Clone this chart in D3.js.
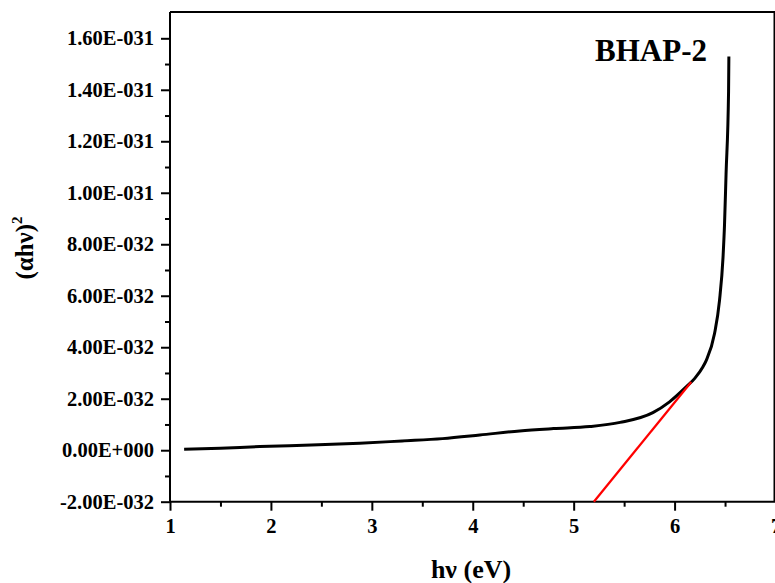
<!DOCTYPE html>
<html>
<head>
<meta charset="utf-8">
<script src="https://cdn.jsdelivr.net/npm/d3@7"></script>
<style>
  body { margin: 0; background: #fff; }
  text { font-family: "Liberation Serif", "Times New Roman", serif; font-weight: bold; }
</style>
</head>
<body>
<svg id="chart"></svg>
<script>
// photon energy (eV) and (αhν)^2 (in units of 1e-32)
const energy = [1.14, 1.5, 1.89, 2.4, 2.88, 3.3, 3.7, 4.07, 4.465, 4.8, 5.16, 5.46, 5.785, 5.95,
                6.115, 6.2, 6.28, 6.314, 6.396, 6.445, 6.48, 6.495, 6.51, 6.535, 6.538];
const absorb = [0.04, 0.08, 0.14, 0.2, 0.27, 0.36, 0.45, 0.59, 0.75, 0.84, 0.92, 1.08, 1.46, 1.88,
                2.46, 2.79, 3.23, 3.49, 4.53, 5.81, 7.49, 8.78, 10.72, 13.94, 15.29];
// tangent (band gap extrapolation)
const fitEnergy = [5.2, 6.165];
const fitAbsorb = [-2.0, 2.65];

const xTicks = [1, 2, 3, 4, 5, 6, 7];
const yTicks = [-2, 0, 2, 4, 6, 8, 10, 12, 14, 16];
const yTickLabels = ["-2.00E-032", "0.00E+000", "2.00E-032", "4.00E-032", "6.00E-032",
                     "8.00E-032", "1.00E-031", "1.20E-031", "1.40E-031", "1.60E-031"];

const width = 775, height = 583;
const margin = { top: 12, right: 0, bottom: 81, left: 170 };

const svg = d3.select("#chart")
    .attr("width", width)
    .attr("height", height)
    .attr("viewBox", [0, 0, width, height]);

const x = d3.scaleLinear().domain([1, 7]).range([margin.left, 775.5]);
const y = d3.scaleLinear().domain([-2, 16]).range([501.7, 38.3]);
const yTop = margin.top;

// frame (top and right)
svg.append("path")
    .attr("fill", "none")
    .attr("stroke", "black")
    .attr("stroke-width", 2)
    .attr("d", `M${x(1)},${yTop}H${x(7) - 1}V${y(-2)}`);

// x axis
svg.append("g")
    .attr("transform", `translate(0,${y(-2)})`)
    .call(d3.axisBottom(x).tickValues(xTicks).tickFormat(d3.format("d"))
        .tickSize(9).tickPadding(8).tickSizeOuter(0))
    .call(g => g.select(".domain").attr("stroke-width", 2).attr("d", `M${x(1)},0H${x(7)}`))
    .call(g => g.selectAll(".tick line").attr("stroke-width", 2))
    .call(g => g.selectAll(".tick text").attr("font-size", 20.5).attr("font-family", null));

svg.append("g")
    .attr("transform", `translate(0,${y(-2)})`)
    .call(d3.axisBottom(x).tickValues(d3.range(1.5, 7, 1)).tickSize(5).tickFormat("").tickSizeOuter(0))
    .call(g => g.select(".domain").remove())
    .call(g => g.selectAll(".tick line").attr("stroke-width", 2));

// y axis
svg.append("g")
    .attr("transform", `translate(${margin.left},0)`)
    .call(d3.axisLeft(y).tickValues(yTicks).tickSize(9).tickPadding(7)
        .tickFormat((d, i) => yTickLabels[i]).tickSizeOuter(0))
    .call(g => g.select(".domain").attr("stroke-width", 2).attr("d", `M0,${y(-2)}V${yTop}`))
    .call(g => g.selectAll(".tick line").attr("stroke-width", 2))
    .call(g => g.selectAll(".tick text").attr("font-size", 20.5).attr("font-family", null));

svg.append("g")
    .attr("transform", `translate(${margin.left},0)`)
    .call(d3.axisLeft(y).tickValues(d3.range(-1, 17, 2)).tickSize(5).tickFormat("").tickSizeOuter(0))
    .call(g => g.select(".domain").remove())
    .call(g => g.selectAll(".tick line").attr("stroke-width", 2));

// curve
const pts = energy.map((e, i) => [e, absorb[i]]);
const line = d3.line()
    .x(d => x(d[0]))
    .y(d => y(d[1]))
    .curve(d3.curveMonotoneX);

svg.append("path")
    .datum(pts)
    .attr("fill", "none")
    .attr("stroke", "black")
    .attr("stroke-width", 3)
    .attr("stroke-linejoin", "round")
    .attr("d", line);

// tangent line
svg.append("path")
    .datum(fitEnergy.map((e, i) => [e, fitAbsorb[i]]))
    .attr("fill", "none")
    .attr("stroke", "#ff0000")
    .attr("stroke-width", 2.2)
    .attr("d", d3.line().x(d => x(d[0])).y(d => y(d[1])));

// labels
svg.append("text")
    .attr("x", 651)
    .attr("y", 61)
    .attr("text-anchor", "middle")
    .attr("font-size", 31)
    .text("BHAP-2");

svg.append("text")
    .attr("x", 471)
    .attr("y", 578)
    .attr("text-anchor", "middle")
    .attr("font-size", 26)
    .text("hν (eV)");

const yl = svg.append("text")
    .attr("transform", `translate(33,${248}) rotate(-90)`)
    .attr("text-anchor", "middle")
    .attr("font-size", 25);
yl.append("tspan").text("(αhν)");
yl.append("tspan").attr("dy", -11).attr("font-size", 15).text("2");
</script>
</body>
</html>
